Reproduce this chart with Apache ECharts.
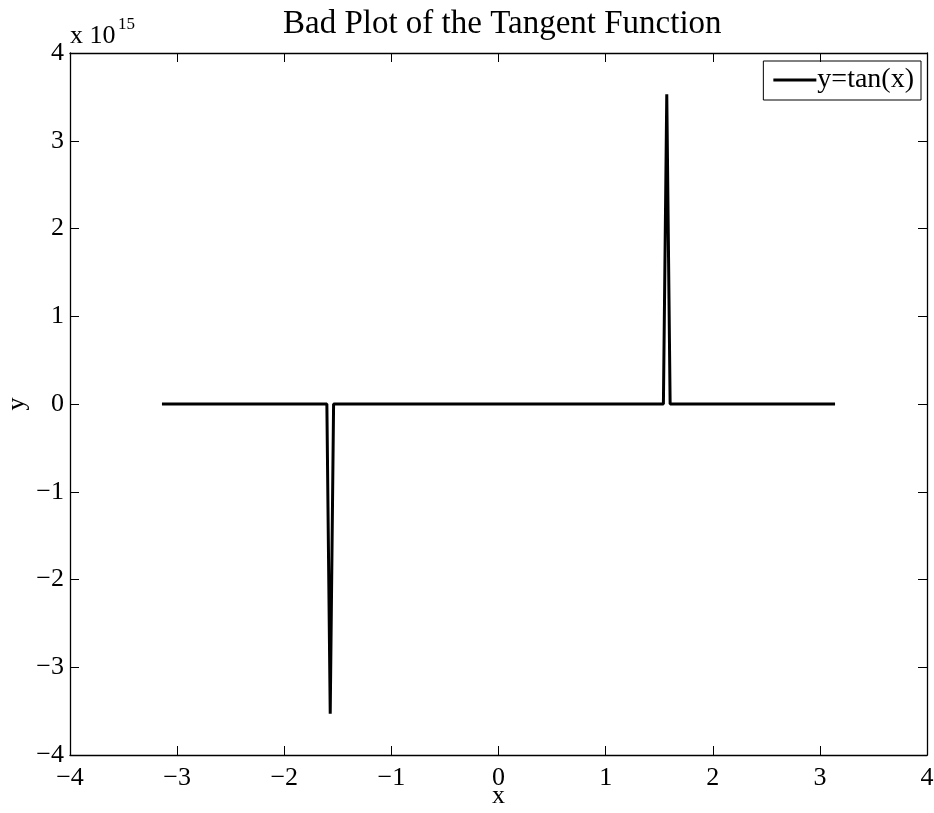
<!DOCTYPE html>
<html>
<head>
<meta charset="utf-8">
<script src="https://cdn.jsdelivr.net/npm/echarts@6/dist/echarts.min.js"></script>
<style>
  html, body { margin: 0; padding: 0; background: #fff; }
  #chart { width: 934px; height: 813px; }
</style>
</head>
<body>
<div id="chart"></div>
<script>
// Sampled vertices of y = tan(x) on [-pi, pi]; the poles show up as single huge spikes.
const xValues = [-3.1416, -1.6022, -1.5708, -1.5394, 1.5394, 1.5708, 1.6022, 3.1416];
const yValues = [0, 0, -3.53e15, 0, 0, 3.53e15, 0, 0];

const xTicks = [-4, -3, -2, -1, 0, 1, 2, 3, 4];
const yTicks = [-4, -3, -2, -1, 0, 1, 2, 3, 4]; // in units of 10^15
const yScale = 1e15;

const FONT = '"Liberation Serif", "Times New Roman", serif';
const minus = v => String(v).replace('-', '\u2212');

const chart = echarts.init(document.getElementById('chart'));

const axisCommon = {
  type: 'value',
  axisLine: { show: true, onZero: false, lineStyle: { color: '#000', width: 1.3 } },
  axisTick: { show: true, inside: true, length: 9, lineStyle: { color: '#000', width: 1 } },
  splitLine: { show: false }
};

chart.setOption({
  animation: false,
  backgroundColor: '#fff',
  grid: { left: 70, right: 7, top: 53, bottom: 58, containLabel: false, outerBoundsMode: 'none' },
  legend: {
    data: ['y=tan(x)'],
    right: 13,
    top: 61,
    orient: 'vertical',
    icon: 'rect',
    borderColor: '#000',
    borderWidth: 1,
    borderRadius: 0,
    padding: [5, 7, 6, 10],
    itemWidth: 43,
    itemHeight: 3,
    itemGap: 0,
    textStyle: { fontFamily: FONT, fontSize: 28, color: '#000', padding: [0, 0, 0, -4] }
  },
  xAxis: [
    Object.assign({}, axisCommon, {
      position: 'bottom',
      min: xTicks[0], max: xTicks[xTicks.length - 1], interval: 1,
      name: 'x', nameLocation: 'middle', nameGap: 28, nameMoveOverlap: false,
      nameTextStyle: { fontFamily: FONT, fontSize: 26, color: '#000' },
      axisLabel: { color: '#000', fontFamily: FONT, fontSize: 26, margin: 10, formatter: minus }
    }),
    Object.assign({}, axisCommon, {
      position: 'top',
      min: xTicks[0], max: xTicks[xTicks.length - 1], interval: 1,
      axisLabel: { show: false }
    })
  ],
  yAxis: [
    Object.assign({}, axisCommon, {
      position: 'left',
      min: yTicks[0] * yScale, max: yTicks[yTicks.length - 1] * yScale, interval: yScale,
      name: 'y', nameLocation: 'middle', nameGap: 40, nameMoveOverlap: false,
      nameTextStyle: { fontFamily: FONT, fontSize: 26, color: '#000' },
      axisLabel: { color: '#000', fontFamily: FONT, fontSize: 26, margin: 6,
        formatter: v => minus(Math.round(v / yScale)) }
    }),
    Object.assign({}, axisCommon, {
      position: 'right',
      min: yTicks[0] * yScale, max: yTicks[yTicks.length - 1] * yScale, interval: yScale,
      axisLabel: { show: false }
    })
  ],
  series: [{
    name: 'y=tan(x)',
    type: 'line',
    data: xValues.map((x, i) => [x, yValues[i]]),
    symbol: 'none',
    lineStyle: { color: '#000', width: 3 },
    itemStyle: { color: '#000' }
  }],
  graphic: [
    {
      type: 'text', left: 283, top: 8,
      style: { text: 'Bad Plot of the Tangent Function', fontFamily: FONT, fontSize: 33, fill: '#000' }
    },
    {
      type: 'text', left: 70, top: 23,
      style: { text: 'x 10', fontFamily: FONT, fontSize: 26, fill: '#000' }
    },
    {
      type: 'text', left: 118, top: 16,
      style: { text: '15', fontFamily: FONT, fontSize: 17, fill: '#000' }
    }
  ]
});
</script>
</body>
</html>
